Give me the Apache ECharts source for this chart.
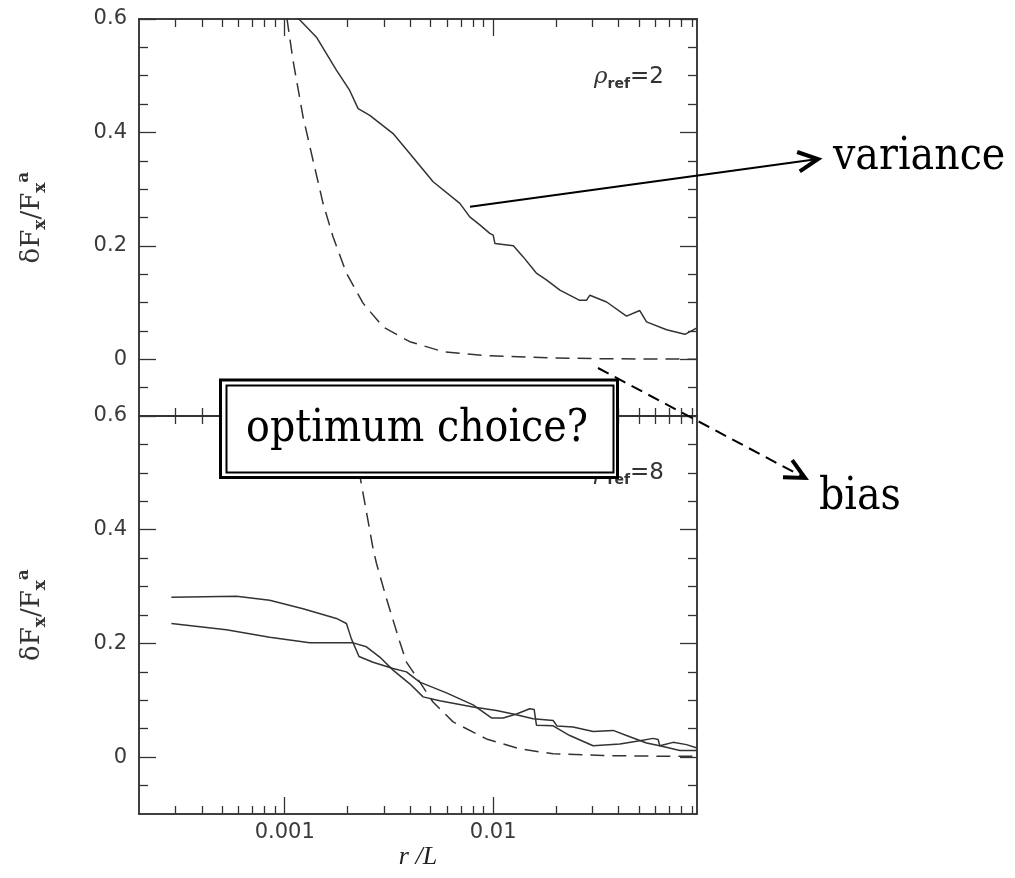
<!DOCTYPE html>
<html><head><meta charset="utf-8">
<script src="https://cdn.jsdelivr.net/npm/echarts@6/dist/echarts.min.js"></script>
<style>html,body{margin:0;padding:0;background:#fff}#c{width:1015px;height:878px}</style>
</head><body><div id="c"></div>
<script>
// ---- axis values ----
const xMin = 0.0002, xMax = 0.095;
const xMajorTicks = [0.001, 0.01];
const xMinorTicks = [0.0003,0.0004,0.0005,0.0006,0.0007,0.0008,0.0009,
                     0.002,0.003,0.004,0.005,0.006,0.007,0.008,0.009,
                     0.02,0.03,0.04,0.05,0.06,0.07,0.08,0.09];
const yMin = -0.1, yMax = 0.6;
const yMajorTicks = [0, 0.2, 0.4, 0.6];
const yMinorTicks = [-0.05,0.05,0.1,0.15,0.25,0.3,0.35,0.45,0.5,0.55];

// ---- data: top panel (rho_ref = 2) ----
const topVariance = [[0.00108,0.615],[0.00117,0.600],[0.00142,0.568],[0.00177,0.510],[0.00205,0.474],[0.00225,0.442],[0.00256,0.430],[0.00331,0.398],[0.00398,0.363],[0.00515,0.313],[0.00692,0.275],[0.00772,0.251],[0.00863,0.237],[0.00963,0.222],[0.0100,0.219],[0.0102,0.204],[0.0125,0.200],[0.0139,0.181],[0.0161,0.152],[0.0180,0.140],[0.0209,0.122],[0.0260,0.104],[0.0280,0.104],[0.0291,0.113],[0.0350,0.101],[0.0436,0.076],[0.0505,0.086],[0.0544,0.066],[0.0679,0.052],[0.0831,0.044],[0.0945,0.055]];
const topBias = [[0.00098,0.64],[0.001026,0.600],[0.001096,0.527],[0.001224,0.428],[0.001367,0.351],[0.001527,0.275],[0.001705,0.216],[0.001977,0.152],[0.002375,0.099],[0.002963,0.057],[0.00398,0.031],[0.00575,0.0134],[0.00929,0.0063],[0.0195,0.0025],[0.030,0.0012],[0.050,0.0005],[0.095,0.0002]];

// ---- data: bottom panel (rho_ref = 8) ----
const bottomVarianceA = [[0.000286,0.281],[0.000587,0.283],[0.000847,0.276],[0.001224,0.261],[0.00177,0.244],[0.001977,0.235],[0.002089,0.208],[0.002272,0.177],[0.002653,0.167],[0.003309,0.156],[0.003837,0.150],[0.004444,0.132],[0.005969,0.113],[0.008009,0.092],[0.009813,0.069],[0.01116,0.069],[0.01294,0.076],[0.01498,0.085],[0.01572,0.084],[0.01614,0.056],[0.01939,0.055],[0.02331,0.038],[0.03016,0.020],[0.04051,0.023],[0.05051,0.029],[0.05853,0.033],[0.06184,0.031],[0.0630,0.020],[0.0786,0.0116],[0.095,0.0116]];
const bottomVarianceB = [[0.000286,0.235],[0.000525,0.224],[0.000847,0.211],[0.001318,0.201],[0.002127,0.201],[0.002466,0.194],[0.002857,0.176],[0.003309,0.153],[0.00398,0.129],[0.004609,0.106],[0.005543,0.099],[0.008009,0.088],[0.01037,0.082],[0.01246,0.076],[0.01554,0.0675],[0.01939,0.0645],[0.02026,0.0546],[0.02417,0.053],[0.03016,0.045],[0.03761,0.047],[0.04361,0.038],[0.0544,0.025],[0.063,0.020],[0.0730,0.026],[0.0846,0.022],[0.095,0.016]];
const bottomBias = [[0.00200,0.62],[0.002291,0.496],[0.002653,0.367],[0.002754,0.341],[0.003076,0.279],[0.003563,0.203],[0.003837,0.167],[0.004127,0.150],[0.005146,0.097],[0.006421,0.062],[0.007173,0.053],[0.009287,0.032],[0.01341,0.0146],[0.01939,0.0058],[0.03369,0.0028],[0.05853,0.0018],[0.095,0.0015]];

// ---- text ----
const panelLabels = ['2', '8'];
const xAxisTitle = 'r /L';
const boxText = 'optimum choice?';
const varianceText = 'variance';
const biasText = 'bias';

// ---- styling ----
const AX = '#333', LBL = '#3a3a3a', CURVE = '#333';
const tickFont = {fontFamily: 'DejaVu Sans', fontSize: 21, color: LBL};
const handFont = "'DejaVu Serif Condensed','DejaVu Serif',serif";

const grids = [
  {left: 139, top: 19, width: 558, height: 397},
  {left: 139, top: 416, width: 558, height: 398}
];

const xAxes = [], yAxes = [];
function mkX(g, pos, ticks, len, labels) {
  xAxes.push({
    type: 'log', gridIndex: g, position: pos, min: xMin, max: xMax, logBase: 10,
    axisLine: {show: true, onZero: false, lineStyle: {color: AX, width: 1.5}},
    axisTick: {show: true, inside: true, length: len, customValues: ticks, lineStyle: {color: AX, width: 1.3}},
    axisLabel: labels ? {show: true, customValues: labels, margin: 8, ...tickFont,
      formatter: v => (+v).toPrecision(1).replace(/^(0\.0*1)0*$/, '$1')} : {show: false},
    splitLine: {show: false}, minorTick: {show: false},
    ...(labels && g === 1 ? {name: xAxisTitle, nameLocation: 'middle', nameGap: 30,
      nameTextStyle: {fontFamily: 'Liberation Serif', fontStyle: 'italic', fontSize: 26, color: '#222'}} : {})
  });
  return xAxes.length - 1;
}
const yName = '{m|δF}{s|x}{m|/F}{s|x}{p|a}';
function mkY(g, pos, ticks, len, labels) {
  yAxes.push({
    type: 'value', gridIndex: g, position: pos, min: yMin, max: yMax,
    axisLine: {show: true, onZero: false, lineStyle: {color: AX, width: 1.5}},
    axisTick: {show: true, inside: true, length: len, customValues: ticks, lineStyle: {color: AX, width: 1.3}},
    axisLabel: labels ? {show: true, customValues: labels, margin: 12, ...tickFont} : {show: false},
    splitLine: {show: false},
    ...(labels ? {name: yName, nameLocation: 'middle', nameRotate: 90, nameGap: 90,
      nameTextStyle: {fontFamily: 'DejaVu Serif', fontSize: 26, color: '#333', rich: {
        m: {fontFamily: 'DejaVu Serif', fontSize: 26, color: '#333', lineHeight: 34},
        s: {fontFamily: 'DejaVu Serif', fontSize: 17, fontWeight: 'bold', color: '#333', verticalAlign: 'bottom', lineHeight: 34},
        p: {fontFamily: 'DejaVu Serif', fontSize: 17, fontWeight: 'bold', color: '#333', verticalAlign: 'top', lineHeight: 34}
      }}} : {})
  });
  return yAxes.length - 1;
}

const mainX = [], mainY = [];
for (let g = 0; g < 2; g++) {
  mainX.push(mkX(g, 'bottom', xMajorTicks, 17, g === 1 ? xMajorTicks : null));
  mkX(g, 'bottom', xMinorTicks, 8, null);
  mkX(g, 'top', xMajorTicks, 17, null);
  mkX(g, 'top', xMinorTicks, 8, null);
  mainY.push(mkY(g, 'left', yMajorTicks, 17, yMajorTicks));
  mkY(g, 'left', yMinorTicks, 9, null);
  mkY(g, 'right', yMajorTicks, 17, null);
  mkY(g, 'right', yMinorTicks, 9, null);
}

function line(g, data, dashed) {
  return {
    type: 'line', xAxisIndex: mainX[g], yAxisIndex: mainY[g], data: data,
    showSymbol: false, symbol: 'none', clip: true, silent: true,
    lineStyle: {color: CURVE, width: 1.5, type: dashed ? [14, 8] : 'solid'}
  };
}

function arrow(x1, y1, x2, y2, dashed) {
  const a = Math.atan2(y2 - y1, x2 - x1), L = 22, s = 0.46;
  return [
    {type: 'line', z: 120, shape: {x1, y1, x2, y2},
     style: {stroke: '#000', lineWidth: 2, lineDash: dashed ? [12, 7] : null}},
    {type: 'polyline', z: 121, shape: {points: [
      [x2 - L * Math.cos(a - s), y2 - L * Math.sin(a - s)], [x2, y2],
      [x2 - L * Math.cos(a + s), y2 - L * Math.sin(a + s)]]},
     style: {stroke: '#000', lineWidth: 4, fill: null, lineJoin: 'miter'}}
  ];
}

function rhoLabel(x, y, v) {
  return {type: 'text', z: 110, x: x, y: y, style: {
    text: '{r|ρ}{s|ref}{n|=' + v + '}', align: 'left', verticalAlign: 'middle',
    rich: {
      r: {fontFamily: 'DejaVu Serif', fontStyle: 'italic', fontSize: 23, fill: '#333', lineHeight: 28},
      s: {fontFamily: 'DejaVu Sans', fontWeight: 'bold', fontSize: 14, fill: '#333', verticalAlign: 'bottom', lineHeight: 28},
      n: {fontFamily: 'DejaVu Sans', fontSize: 23, fill: '#333', lineHeight: 28}
    }}};
}

const graphics = [
  rhoLabel(594, 77, panelLabels[0]),
  rhoLabel(594, 473, panelLabels[1]),
  {type: 'rect', z: 115, shape: {x: 220.5, y: 380, width: 397, height: 97.5},
   style: {fill: '#fff', stroke: '#000', lineWidth: 3}},
  {type: 'rect', z: 116, shape: {x: 226.5, y: 385.5, width: 387, height: 87},
   style: {fill: null, stroke: '#000', lineWidth: 2}},
  {type: 'text', z: 117, x: 417, y: 430, style: {text: boxText, align: 'center', verticalAlign: 'middle',
   fontFamily: handFont, fontSize: 44, fill: '#000'}},
  ...arrow(470, 206.7, 818, 159, false),
  ...arrow(598, 368, 805, 478, true),
  {type: 'text', z: 117, x: 833, y: 158, style: {text: varianceText, align: 'left', verticalAlign: 'middle',
   fontFamily: handFont, fontSize: 44, fill: '#000'}},
  {type: 'text', z: 117, x: 819, y: 498, style: {text: biasText, align: 'left', verticalAlign: 'middle',
   fontFamily: handFont, fontSize: 44, fill: '#000'}}
];

const chart = echarts.init(document.getElementById('c'), null, {renderer: 'canvas'});
chart.setOption({
  animation: false,
  backgroundColor: '#fff',
  grid: grids.map(g => ({...g, containLabel: false, outerBoundsMode: 'none'})),
  xAxis: xAxes,
  yAxis: yAxes,
  series: [
    line(0, topVariance, false),
    line(0, topBias, true),
    line(1, bottomVarianceA, false),
    line(1, bottomVarianceB, false),
    line(1, bottomBias, true)
  ],
  graphic: graphics
});
</script>
</body></html>
